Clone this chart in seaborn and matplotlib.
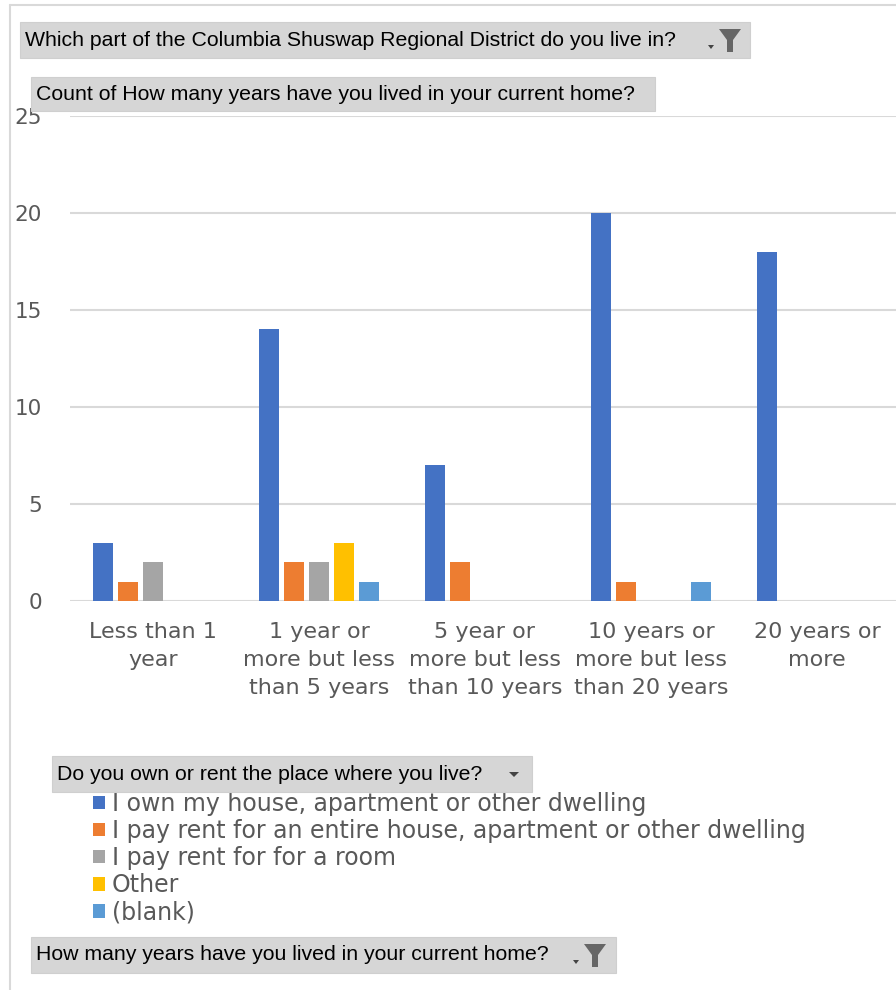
import matplotlib
matplotlib.use('Agg')
import matplotlib.pyplot as plt
import numpy as np
import pandas as pd
import seaborn as sns
from matplotlib.patches import Rectangle, Polygon
from matplotlib.lines import Line2D

sns.set_style('white')
plt.rcParams['font.family'] = ['DejaVu Sans']

# data
years = ['Less than 1\nyear', '1 year or\nmore but less\nthan 5 years', '5 year or\nmore but less\nthan 10 years',
         '10 years or\nmore but less\nthan 20 years', '20 years or\nmore']
tenure = ['I own my house, apartment or other dwelling',
          'I pay rent for an entire house, apartment or other dwelling',
          'I pay rent for for a room', 'Other', '(blank)']
own = [3, 14, 7, 20, 18]
rent_entire = [1, 2, 2, 1, 0]
rent_room = [2, 2, 0, 0, 0]
other = [0, 3, 0, 0, 0]
blank = [0, 1, 0, 1, 0]
colors = ['#4472C4', '#ED7D31', '#A5A5A5', '#FFC000', '#5B9BD5']

rows = []
for t, vals in zip(tenure, [own, rent_entire, rent_room, other, blank]):
    for y, v in zip(years, vals):
        rows.append({'years': y, 'tenure': t, 'count': v})
df = pd.DataFrame(rows)

W, H = 896, 990
fig = plt.figure(figsize=(W / 100, H / 100), dpi=100)
fig.patch.set_facecolor('white')


def fx(x):
    return x / W


def fy(y):
    return 1 - y / H


ax = fig.add_axes([fx(70), fy(601), 830 / W, (601 - 116) / H])
sns.barplot(data=df, x='years', y='count', hue='tenure', palette=colors, width=0.75, gap=0.2,
            saturation=1, linewidth=0, ax=ax, legend=True)
ax.set_xlim(-0.5, 4.5)
ax.set_ylim(0, 25)
ax.set_yticks([0, 5, 10, 15, 20, 25])
ax.yaxis.grid(True, color='#d9d9d9', linewidth=1.5)
ax.set_axisbelow(True)
for s in ax.spines.values():
    s.set_visible(False)
ax.axhline(0, color='#d9d9d9', linewidth=2, zorder=0.5)
ax.set_xlabel('')
ax.set_ylabel('')
ax.tick_params(axis='x', length=0, pad=15, labelsize=16, labelcolor='#595959')
ax.tick_params(axis='y', length=0, pad=20, labelsize=15.5, labelcolor='#595959')
for lab in ax.get_xticklabels():
    lab.set_linespacing(1.5)

leg = ax.legend(loc='upper left', bbox_to_anchor=(fx(93), fy(792)), bbox_transform=fig.transFigure,
                frameon=False, fontsize=17, handlelength=0.5, handleheight=0.5, handletextpad=0.3,
                labelspacing=0.13, borderpad=0, borderaxespad=0)
for txt in leg.get_texts():
    txt.set_color('#595959')

# chart frame
fig.add_artist(Line2D([fx(10), fx(10)], [fy(5), 0], color='#d9d9d9', lw=1.5))
fig.add_artist(Line2D([fx(10), 1], [fy(5), fy(5)], color='#d9d9d9', lw=1.5))

# pivot field buttons
narrow = ['Liberation Sans Narrow', 'Liberation Sans', 'DejaVu Sans']


def button(x0, y0, x1, y1, text, size):
    fig.add_artist(Rectangle((fx(x0), fy(y1)), fx(x1) - fx(x0), fy(y0) - fy(y1),
                             facecolor='#d6d6d6', edgecolor='#cfcfcf', lw=0.8, zorder=5))
    fig.text(fx(x0 + 5), fy((y0 + y1) / 2), text, fontsize=size, family=narrow, color='black',
             va='center', ha='left', zorder=6)


def funnel(x, y):
    pts = [(x, y), (x + 22, y), (x + 14, y + 11), (x + 14, y + 23), (x + 8, y + 23), (x + 8, y + 11)]
    fig.add_artist(Polygon([(fx(a), fy(b)) for a, b in pts], closed=True, facecolor='#666666',
                           edgecolor='none', zorder=7))
    tri = [(x - 11, y + 16), (x - 5, y + 16), (x - 8, y + 20)]
    fig.add_artist(Polygon([(fx(a), fy(b)) for a, b in tri], closed=True, facecolor='#444444',
                           edgecolor='none', zorder=7))


button(20, 22, 750, 58, 'Which part of the Columbia Shuswap Regional District do you live in?', 15.3)
funnel(719, 29)
button(31, 77, 655, 111, 'Count of How many years have you lived in your current home?', 15.3)
button(52, 756, 532, 792, 'Do you own or rent the place where you live?', 15.3)
tri = [(509, 772), (519, 772), (514, 777)]
fig.add_artist(Polygon([(fx(a), fy(b)) for a, b in tri], closed=True, facecolor='#444444',
                       edgecolor='none', zorder=7))
button(31, 937, 616, 973, 'How many years have you lived in your current home?', 15.3)
funnel(584, 944)

fig.savefig('out.png', dpi=100)
